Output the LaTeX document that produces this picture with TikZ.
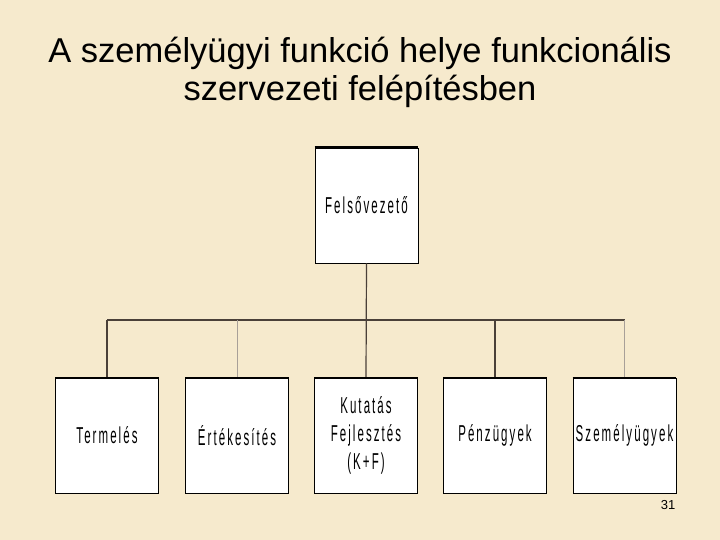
\documentclass[tikz,border=0pt]{standalone}
\usepackage{fontspec}
\setmainfont{Liberation Sans}
\newfontfamily\boxfont[LetterSpace=9, FakeStretch=0.5]{Liberation Sans}
\usetikzlibrary{positioning}
\definecolor{parchment}{HTML}{F6EACD}
\definecolor{linegrey}{HTML}{4A4038}
\definecolor{palegrey}{HTML}{A8A098}

\tikzset{
	unit/.style={draw=black, fill=white, line width=0.8pt,
		minimum width=103pt, minimum height=115pt, inner sep=0pt,
		align=center, font=\boxfont\fontsize{23}{28}\selectfont},
	link/.style={draw=linegrey, line width=1.2pt},
	palelink/.style={draw=palegrey, line width=1pt}
}

\begin{document}
\begin{tikzpicture}[x=1pt,y=-1pt]
		
		\fill[parchment]
		(0,0)
		rectangle
		(720,540);
		
		\node[font=\fontsize{34.5}{38}\selectfont, align=center] (title) at (360,72)
		{A személyügyi funkció helye funkcionális\\szervezeti felépítésben};
		
		\node[unit] (top) at (366.5,205.5)
		{Felsővezető};
		
		\node[unit] (termeles) at (107,435.5)
		{Termelés};
		
		\node[unit] (ertek) at (237,435.5)
		{Értékesítés};
		
		\node[unit] (kf) at (366,435.5)
		{Kutatás\\Fejlesztés\\(K+F)};
		
		\node[unit] (penz) at (495,435.5)
		{Pénzügyek};
		
		\node[unit] (szem) at (624.5,435.5)
		{Személyügyek};
		
		\coordinate (bar) at (366,320);
		
		\draw[link]
		(top.south)
		--
		(kf.north);
		
		\draw[link]
		(termeles.north|-bar)
		--
		(szem.north|-bar);
		
		\draw[link] (termeles.north|-bar) -- (termeles.north);
		\draw[link] (penz.north|-bar) -- (penz.north);
		\draw[palelink] (ertek.north|-bar) -- (ertek.north);
		\draw[palelink] (szem.north|-bar) -- (szem.north);
		
		% heavier top edges
		\foreach \n in {top,termeles,ertek,kf,penz,szem}
		\draw[line width=2.2pt] (\n.north west) -- (\n.north east);
		
		\node[font=\fontsize{13}{15}\selectfont] (page) at (668,505)
		{31};
		
	\end{tikzpicture}
\end{document}
